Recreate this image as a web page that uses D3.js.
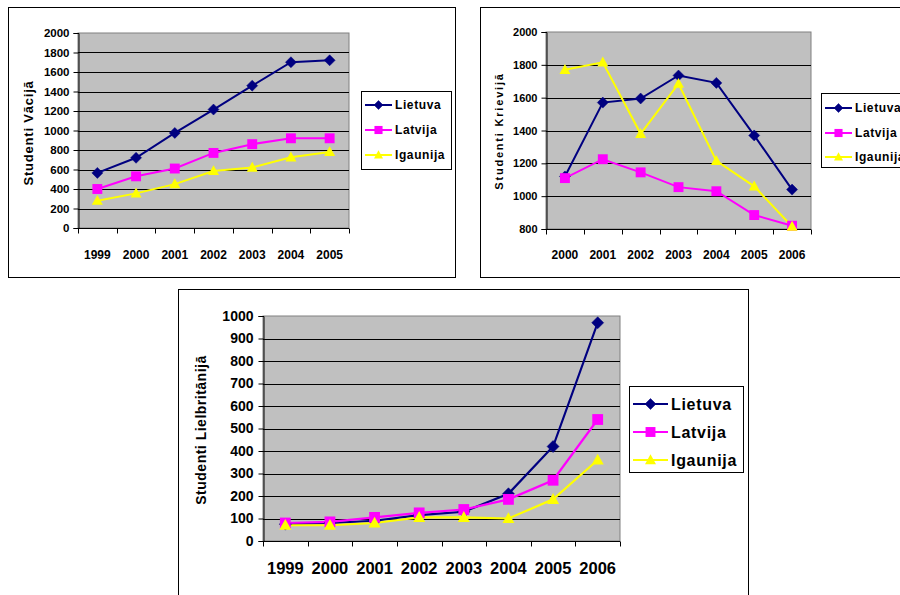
<!DOCTYPE html>
<html><head><meta charset="utf-8">
<script src="https://cdn.jsdelivr.net/npm/d3@7/dist/d3.min.js"></script>
<style>
html,body{margin:0;padding:0;background:#fff;}
svg{display:block;font-family:"Liberation Sans",Arial,sans-serif;font-weight:bold;}
</style></head>
<body>
<svg id="c" width="900" height="595"></svg>
<script>
const seriesNames = ["Lietuva", "Latvija", "Igaunija"];
const seriesColors = ["#000080", "#FF00FF", "#FFFF00"];

const years1 = ["1999","2000","2001","2002","2003","2004","2005"];
const lietuva1 = [565, 720, 975, 1215, 1460, 1700, 1720];
const latvija1 = [400, 530, 610, 770, 860, 920, 920];
const igaunija1 = [280, 355, 450, 585, 620, 725, 780];
const yTicks1 = [0,200,400,600,800,1000,1200,1400,1600,1800,2000];

const years2 = ["2000","2001","2002","2003","2004","2005","2006"];
const lietuva2 = [1120, 1570, 1595, 1735, 1690, 1370, 1040];
const latvija2 = [1110, 1225, 1145, 1055, 1030, 885, 820];
const igaunija2 = [1770, 1815, 1380, 1685, 1215, 1060, 815];
const yTicks2 = [800,1000,1200,1400,1600,1800,2000];

const years3 = ["1999","2000","2001","2002","2003","2004","2005","2006"];
const lietuva3 = [75, 80, 90, 115, 130, 210, 420, 970];
const latvija3 = [80, 85, 105, 125, 140, 185, 270, 540];
const igaunija3 = [70, 70, 80, 105, 105, 100, 185, 360];
const yTicks3 = [0,100,200,300,400,500,600,700,800,900,1000];

const svg = d3.select("#c");

function marker(g, kind, x, y, s, color) {
  if (kind === 0) {
    g.append("path").attr("d", `M${x},${y-s}L${x+s},${y}L${x},${y+s}L${x-s},${y}Z`)
      .attr("fill", color).attr("stroke", color).attr("stroke-width", 0.5);
  } else if (kind === 1) {
    g.append("rect").attr("x", x-s*0.9).attr("y", y-s*0.9).attr("width", s*1.8).attr("height", s*1.8)
      .attr("fill", color);
  } else {
    g.append("path").attr("d", `M${x},${y-s*1.05}L${x+s},${y+s*0.75}L${x-s},${y+s*0.75}Z`)
      .attr("fill", color);
  }
}

function drawChart(cfg) {
  const g = svg.append("g");
  g.append("rect").attr("x", cfg.frame[0]+0.5).attr("y", cfg.frame[1]+0.5)
    .attr("width", cfg.frame[2]).attr("height", cfg.frame[3])
    .attr("fill", "#fff").attr("stroke", "#000").attr("stroke-width", 1);

  const p = cfg.plot;
  const x = d3.scaleBand().domain(cfg.cats).range([p[0], p[2]]);
  const y = d3.scaleLinear().domain([cfg.yTicks[0], cfg.yTicks[cfg.yTicks.length-1]]).range([p[3], p[1]]);

  g.append("rect").attr("x", p[0]).attr("y", p[1]).attr("width", p[2]-p[0]).attr("height", p[3]-p[1])
    .attr("fill", "#C0C0C0").attr("stroke", "#808080").attr("stroke-width", 1);

  g.append("g").selectAll("line").data(cfg.yTicks.slice(1, -1)).join("line")
    .attr("x1", p[0]).attr("x2", p[2])
    .attr("y1", d => Math.round(y(d))+0.5).attr("y2", d => Math.round(y(d))+0.5)
    .attr("stroke", "#000").attr("stroke-width", 1);

  const ya = g.append("g").attr("transform", `translate(${p[0]+0.5},0)`)
    .call(d3.axisLeft(y).tickValues(cfg.yTicks).tickSize(cfg.tick).tickPadding(cfg.pad).tickFormat(d3.format("d")));
  ya.select(".domain").attr("stroke", "#000");
  ya.selectAll("text").attr("font-size", cfg.yFont).attr("font-family", "Liberation Sans, Arial").attr("font-weight", "bold").attr("fill", "#000");

  const xa = g.append("g").attr("transform", `translate(0,${p[3]+0.5})`);
  xa.append("line").attr("x1", p[0]).attr("x2", p[2]).attr("stroke", "#000");
  const bounds = cfg.cats.map(c => x(c)).concat([p[2]]);
  xa.selectAll("line.tk").data(bounds).join("line").attr("class","tk")
    .attr("x1", d => Math.round(d)+0.5).attr("x2", d => Math.round(d)+0.5)
    .attr("y1", 0).attr("y2", cfg.tick).attr("stroke", "#000");
  xa.selectAll("text").data(cfg.cats).join("text")
    .attr("x", d => x(d) + x.bandwidth()/2).attr("y", cfg.xLabelDy)
    .attr("text-anchor", "middle").attr("font-size", cfg.xFont).text(d => d);

  g.append("text").attr("transform", `translate(${cfg.titlePos[0]},${cfg.titlePos[1]}) rotate(-90)`)
    .attr("text-anchor", "middle").attr("font-size", cfg.titleFont)
    .attr("letter-spacing", cfg.titleSpacing).text(cfg.title);

  cfg.series.forEach((vals, i) => {
    const line = d3.line().x((d, j) => x(cfg.cats[j]) + x.bandwidth()/2).y(d => y(d));
    g.append("path").datum(vals).attr("d", line).attr("fill", "none")
      .attr("stroke", seriesColors[i]).attr("stroke-width", cfg.lw);
  });
  cfg.series.forEach((vals, i) => {
    vals.forEach((v, j) => marker(g, i, x(cfg.cats[j]) + x.bandwidth()/2, y(v), cfg.ms, seriesColors[i]));
  });

  const L = cfg.legend;
  g.append("rect").attr("x", L.x+0.5).attr("y", L.y+0.5).attr("width", L.w).attr("height", L.h)
    .attr("fill", "#fff").attr("stroke", "#000");
  seriesNames.forEach((n, i) => {
    const ry = L.rows[i];
    g.append("line").attr("x1", L.x+4).attr("x2", L.x+4+L.len).attr("y1", ry).attr("y2", ry)
      .attr("stroke", seriesColors[i]).attr("stroke-width", cfg.lw);
    marker(g, i, L.x+4+L.len/2, ry, L.ms, seriesColors[i]);
    g.append("text").attr("x", L.x+7+L.len).attr("y", ry).attr("dy", "0.36em")
      .attr("font-size", L.font).attr("letter-spacing", L.spacing).text(n);
  });
}

drawChart({
  frame: [8, 7, 447, 270], plot: [78, 33, 349, 228], cats: years1, yTicks: yTicks1,
  series: [lietuva1, latvija1, igaunija1], tick: 5, pad: 4, yFont: 11.5, xFont: 12, xLabelDy: 30,
  title: "Studenti Vācijā", titlePos: [33, 133], titleFont: 13, titleSpacing: 0.8,
  lw: 2, ms: 5.5,
  legend: {x: 361, y: 91, w: 90, h: 78, rows: [105, 130, 155], len: 27, font: 12, ms: 4.5, spacing: 0.6}
});
drawChart({
  frame: [480, 7, 440, 270], plot: [546, 32, 811, 229], cats: years2, yTicks: yTicks2,
  series: [lietuva2, latvija2, igaunija2], tick: 5, pad: 4, yFont: 11, xFont: 12, xLabelDy: 29,
  title: "Studenti Krievijā", titlePos: [503, 131], titleFont: 11, titleSpacing: 1.8,
  lw: 2, ms: 5.5,
  legend: {x: 821, y: 93, w: 90, h: 74, rows: [108, 133, 157], len: 27, font: 12, ms: 4.5, spacing: 0.6}
});
drawChart({
  frame: [178, 289, 570, 320], plot: [263, 316, 620, 541], cats: years3, yTicks: yTicks3,
  series: [lietuva3, latvija3, igaunija3], tick: 5, pad: 5, yFont: 14, xFont: 16.5, xLabelDy: 32,
  title: "Studenti Lielbritānijā", titlePos: [206, 430], titleFont: 14, titleSpacing: 0.5,
  lw: 2.2, ms: 6,
  legend: {x: 629, y: 386, w: 114, h: 86, rows: [404, 432, 460], len: 35, font: 16, ms: 5.5, spacing: 0.7}
});
</script>
</body></html>
